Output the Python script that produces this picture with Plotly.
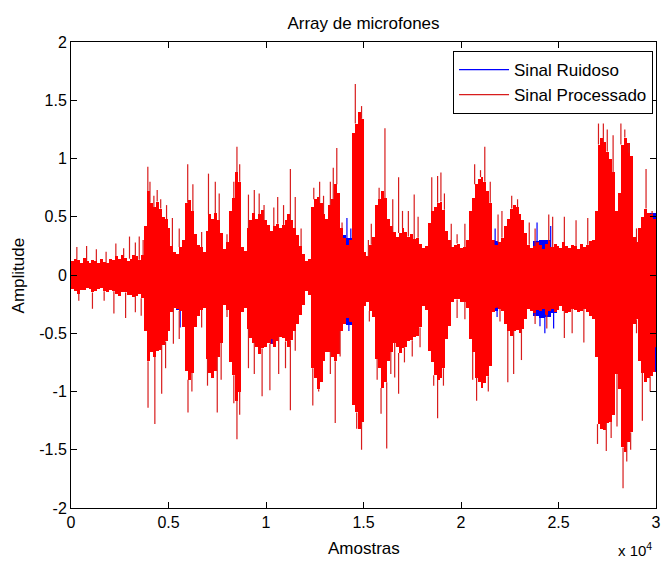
import plotly.graph_objects as go

# ---------------- data ----------------
# "Sinal Processado" (red): max / min of the signal in each 150-sample window
PROC_BIN = 150
proc_hi = [0.12, 0.14, 0.13, 0.10, 0.15, 0.12, 0.10, 0.13, 0.12, 0.10,
           0.14, 0.11, 0.10, 0.14, 0.13, 0.16, 0.14, 0.17, 0.15, 0.12,
           0.14, 0.17, 0.16, 0.13, 0.17, 0.42, 0.72, 0.62, 0.58, 0.63,
           0.57, 0.50, 0.48, 0.40, 0.25, 0.20, 0.18, 0.24, 0.30, 0.62,
           0.64, 0.55, 0.35, 0.26, 0.24, 0.20, 0.38, 0.52, 0.48, 0.53,
           0.47, 0.36, 0.22, 0.28, 0.55, 0.66, 0.88, 0.80, 0.24, 0.21,
           0.40, 0.47, 0.53, 0.48, 0.52, 0.56, 0.47, 0.43, 0.38, 0.42,
           0.44, 0.40, 0.43, 0.47, 0.52, 0.47, 0.40, 0.34, 0.25, 0.18,
           0.12, 0.14, 0.58, 0.65, 0.67, 0.62, 0.52, 0.48, 0.60, 0.65,
           0.78, 0.70, 0.40, 0.32, 0.26, 0.30, 1.22, 1.30, 1.40, 1.34,
           0.20, 0.16, 0.26, 0.33, 0.60, 0.65, 0.72, 0.66, 0.48, 0.42,
           0.37, 0.33, 0.36, 0.40, 0.37, 0.33, 0.35, 0.31, 0.32, 0.27,
           0.23, 0.25, 0.45, 0.55, 0.58, 0.62, 0.63, 0.56, 0.38, 0.30,
           0.24, 0.26, 0.27, 0.23, 0.24, 0.30, 0.55, 0.66, 0.78, 0.82,
           0.84, 0.80, 0.72, 0.62, 0.30, 0.26, 0.28, 0.32, 0.42, 0.48,
           0.57, 0.60, 0.58, 0.52, 0.47, 0.36, 0.26, 0.23, 0.25, 0.28,
           0.26, 0.22, 0.27, 0.29, 0.24, 0.27, 0.25, 0.23, 0.28, 0.25,
           0.23, 0.26, 0.25, 0.22, 0.27, 0.24, 0.26, 0.29, 0.30, 0.55,
           1.12, 1.18, 1.14, 1.06, 1.00, 0.88, 0.55, 0.70, 1.12, 1.18,
           1.13, 1.02, 0.33, 0.28, 0.40, 0.50, 0.57, 0.53, 0.52, 0.48]
proc_lo = [-0.12, -0.14, -0.16, -0.13, -0.13, -0.11, -0.12, -0.15, -0.14, -0.12,
           -0.11, -0.14, -0.15, -0.13, -0.14, -0.16, -0.18, -0.15, -0.15, -0.17,
           -0.17, -0.19, -0.18, -0.16, -0.20, -0.48, -0.74, -0.66, -0.70, -0.65,
           -0.64, -0.60, -0.57, -0.48, -0.32, -0.28, -0.29, -0.31, -0.45, -0.82,
           -0.90, -0.84, -0.45, -0.35, -0.30, -0.28, -0.72, -0.84, -0.88, -0.82,
           -0.70, -0.58, -0.26, -0.30, -0.75, -0.86, -1.08, -1.00, -0.32, -0.28,
           -0.46, -0.54, -0.58, -0.62, -0.68, -0.63, -0.62, -0.58, -0.59, -0.62,
           -0.57, -0.53, -0.54, -0.57, -0.62, -0.56, -0.48, -0.42, -0.34, -0.26,
           -0.14, -0.17, -0.80, -0.88, -0.98, -0.92, -0.74, -0.66, -0.66, -0.70,
           -0.74, -0.68, -0.48, -0.42, -0.37, -0.40, -1.12, -1.18, -1.32, -1.26,
           -0.27, -0.23, -0.31, -0.36, -0.72, -0.80, -0.97, -0.92, -0.74, -0.66,
           -0.58, -0.62, -0.67, -0.63, -0.62, -0.57, -0.56, -0.53, -0.52, -0.45,
           -0.27, -0.30, -0.65, -0.75, -0.86, -0.90, -0.88, -0.80, -0.55, -0.44,
           -0.23, -0.21, -0.21, -0.23, -0.23, -0.28, -0.55, -0.66, -0.88, -0.92,
           -0.97, -0.93, -0.87, -0.78, -0.32, -0.28, -0.29, -0.31, -0.42, -0.48,
           -0.52, -0.48, -0.47, -0.50, -0.46, -0.38, -0.29, -0.31, -0.33, -0.30,
           -0.31, -0.29, -0.34, -0.31, -0.29, -0.32, -0.30, -0.27, -0.31, -0.33,
           -0.32, -0.29, -0.30, -0.32, -0.31, -0.29, -0.32, -0.35, -0.38, -0.70,
           -1.28, -1.32, -1.33, -1.27, -1.26, -1.20, -0.85, -0.98, -1.48, -1.52,
           -1.43, -1.35, -0.42, -0.38, -0.74, -0.84, -0.92, -0.88, -0.87, -0.83]
# "Sinal Ruidoso" (blue): max / min in each 300-sample window (mostly hidden under red)
NOISY_BIN = 300
noisy_hi = [0.08, 0.08, 0.09, 0.08, 0.08, 0.08, 0.08, 0.10, 0.10, 0.09,
            0.11, 0.10, 0.15, 0.60, 0.55, 0.48, 0.38, 0.18, 0.16, 0.25,
            0.52, 0.24, 0.18, 0.36, 0.45, 0.34, 0.20, 0.52, 0.78, 0.18,
            0.38, 0.45, 0.48, 0.40, 0.35, 0.37, 0.40, 0.44, 0.32, 0.16,
            0.09, 0.52, 0.58, 0.45, 0.56, 0.66, 0.34, 0.32, 1.15, 1.30,
            0.14, 0.24, 0.55, 0.63, 0.40, 0.30, 0.33, 0.30, 0.28, 0.25,
            0.18, 0.42, 0.54, 0.52, 0.28, 0.20, 0.20, 0.22, 0.52, 0.74,
            0.76, 0.60, 0.29, 0.25, 0.38, 0.52, 0.49, 0.30, 0.20, 0.29,
            0.30, 0.30, 0.20, 0.19, 0.21, 0.19, 0.19, 0.20, 0.22, 0.26,
            1.05, 1.02, 0.85, 0.50, 1.05, 0.98, 0.26, 0.36, 0.48, 0.53]
noisy_lo = [-0.08, -0.10, -0.08, -0.09, -0.09, -0.08, -0.09, -0.10, -0.12, -0.10,
            -0.13, -0.12, -0.16, -0.62, -0.60, -0.56, -0.45, -0.25, -0.30, -0.42,
            -0.80, -0.32, -0.24, -0.68, -0.78, -0.55, -0.22, -0.70, -0.95, -0.24,
            -0.42, -0.53, -0.58, -0.54, -0.54, -0.49, -0.50, -0.52, -0.38, -0.22,
            -0.10, -0.74, -0.88, -0.62, -0.62, -0.64, -0.40, -0.43, -1.08, -1.20,
            -0.20, -0.28, -0.68, -0.88, -0.62, -0.54, -0.58, -0.53, -0.48, -0.42,
            -0.22, -0.60, -0.82, -0.76, -0.40, -0.17, -0.16, -0.18, -0.50, -0.84,
            -0.88, -0.74, -0.31, -0.24, -0.38, -0.44, -0.42, -0.34, -0.24, -0.35,
            -0.37, -0.36, -0.33, -0.23, -0.24, -0.23, -0.24, -0.23, -0.26, -0.32,
            -1.20, -1.22, -1.15, -0.80, -1.40, -1.30, -0.34, -0.70, -0.84, -0.62]

# individual peaks that stick out of the envelope (sample index, amplitude)
proc_peak_x = [300, 800, 1300, 1800, 2300, 2700, 3000, 3300, 3500, 3700,
               3940, 4050, 4250, 4420, 4600, 4900, 5200, 5550, 5985, 6250,
               6700, 7050, 7400, 7600, 8000, 8350, 8510, 8650, 9100, 9400,
               9650, 9900, 10400, 10600, 10900, 11250, 11500, 11800, 12450, 12750,
               12950, 13300, 13450, 13630, 13900, 14580, 14750, 14900, 15250, 15400,
               15800, 16100, 16500, 16800, 17000, 17300, 17600, 17800, 18500, 18800,
               18970, 19150, 19500, 19800, 20200, 20700, 21000, 21220, 21500, 21900,
               22100, 22600, 22900, 23500, 23800, 24500, 24700, 25300, 25900, 26500,
               27050, 27300, 27500, 27800, 28200, 28400, 28600, 29000, 29490, 29800,
               400, 1100, 1700, 2200, 2800, 3300, 3600, 3950, 4300, 4650,
               4850, 5250, 5550, 6000, 6200, 6700, 7000, 7500, 7700, 8000,
               8350, 8510, 8650, 9100, 9400, 9800, 10200, 10650, 11000, 11250,
               11500, 12400, 12700, 13300, 13550, 13800, 14650, 14900, 15300, 15700,
               15900, 16190, 16400, 16600, 16800, 17100, 17500, 17900, 18600, 18800,
               19100, 19800, 20200, 20600, 20800, 21400, 22000, 22400, 22700, 23100,
               23800, 24400, 25300, 25700, 26300, 27000, 27450, 27700, 28000, 28310,
               28500, 28700, 29000, 29300, 29700]
proc_peak_y = [0.24, 0.25, 0.22, 0.20, 0.27, 0.23, 0.33, 0.28, 0.33, 0.30,
               0.93, 0.80, 0.68, 0.73, 0.65, 0.60, 0.49, 0.40, 0.95, 0.78,
               0.37, 0.87, 0.80, 0.70, 0.35, 0.80, 1.10, 0.95, 0.69, 0.73,
               0.70, 0.60, 0.58, 0.67, 0.60, 0.91, 0.67, 0.40, 0.75, 0.80,
               0.68, 0.80, 0.92, 1.09, 0.45, 1.64, 1.40, 1.45, 0.30, 0.44,
               0.75, 1.26, 0.65, 0.84, 0.55, 0.55, 0.69, 0.50, 0.84, 0.85,
               0.88, 0.70, 0.44, 0.35, 0.44, 0.95, 0.90, 1.10, 0.80, 0.52,
               0.55, 0.68, 0.65, 0.45, 0.40, 0.52, 0.50, 0.50, 0.47, 0.49,
               1.30, 1.30, 1.25, 1.20, 1.30, 1.25, 1.05, 0.40, 0.91, 0.55,
               -0.22, -0.29, -0.22, -0.33, -0.37, -0.32, -0.35, -1.14, -1.28, -1.02,
               -0.80, -0.59, -0.55, -1.18, -1.00, -0.45, -0.95, -1.18, -0.90, -0.36,
               -1.10, -1.41, -1.20, -0.80, -0.85, -1.04, -0.99, -0.85, -0.80, -1.16,
               -0.65, -1.12, -1.00, -0.85, -1.27, -0.70, -1.32, -1.50, -0.40, -0.90,
               -1.19, -1.49, -0.85, -0.88, -1.02, -0.75, -0.70, -0.62, -0.95, -1.23,
               -0.95, -0.37, -0.38, -0.90, -1.08, -1.00, -0.40, -0.92, -0.85, -0.73,
               -0.42, -0.46, -0.54, -0.50, -0.58, -1.45, -1.51, -1.40, -1.30, -1.83,
               -1.60, -1.50, -0.50, -1.25, -1.00]
noisy_peak_x = [5600, 10300, 14150, 14250, 14350, 21750, 21850, 23900, 24050, 24300,
                24600, 24750, 29980, 29980]
noisy_peak_y = [-0.45, -0.55, 0.49, -0.48, 0.40, 0.40, -0.36, 0.45, -0.44, -0.50,
                0.42, -0.46, 0.50, -0.62]

x_ticks = [0, 5000, 10000, 15000, 20000, 25000, 30000]
x_tick_labels = ["0", "0.5", "1", "1.5", "2", "2.5", "3"]
y_ticks = [-2, -1.5, -1, -0.5, 0, 0.5, 1, 1.5, 2]
y_tick_labels = ["-2", "-1.5", "-1", "-0.5", "0", "0.5", "1", "1.5", "2"]

# ---------------- figure ----------------
FONT = "Liberation Sans, Arial, Helvetica, sans-serif"
RED = "#ff0000"
BLUE = "#0000ff"


def centers(n, w):
    return [w * i + w / 2 for i in range(n)]


def peak_segments(px, py, hi, lo, w):
    xs, ys = [], []
    for s, v in zip(px, py):
        b = min(int(s // w), len(hi) - 1)
        start = hi[b] if v > 0 else lo[b]
        xs += [s, s, None]
        ys += [start, v, None]
    return xs, ys


fig = go.Figure()
fig.add_trace(go.Bar(x=centers(len(noisy_hi), NOISY_BIN),
                     y=[h - l for h, l in zip(noisy_hi, noisy_lo)], base=noisy_lo,
                     width=NOISY_BIN, marker=dict(color=BLUE, line=dict(width=0)),
                     showlegend=False, hoverinfo="skip"))
fig.add_trace(go.Bar(x=centers(len(proc_hi), PROC_BIN),
                     y=[h - l for h, l in zip(proc_hi, proc_lo)], base=proc_lo,
                     width=PROC_BIN, marker=dict(color=RED, line=dict(width=0)),
                     showlegend=False, hoverinfo="skip"))
nx, ny = peak_segments(noisy_peak_x, noisy_peak_y, proc_hi, proc_lo, PROC_BIN)
fig.add_trace(go.Scatter(x=nx, y=ny, mode="lines", line=dict(color=BLUE, width=1.2),
                         name="Sinal Ruidoso", hoverinfo="skip"))
rx, ry = peak_segments(proc_peak_x, proc_peak_y, proc_hi, proc_lo, PROC_BIN)
fig.add_trace(go.Scatter(x=rx, y=ry, mode="lines", line=dict(color="#d81c1c", width=1.2),
                         name="Sinal Processado", hoverinfo="skip"))

axis_common = dict(showline=True, linecolor="black", linewidth=1, mirror="ticks",
                   ticks="inside", ticklen=6, tickcolor="black", showgrid=False,
                   zeroline=False, tickfont=dict(family=FONT, size=16, color="black"))
fig.update_layout(
    width=667, height=562,
    margin=dict(l=71, r=6, t=42, b=54),
    paper_bgcolor="white", plot_bgcolor="white",
    barmode="overlay", bargap=0,
    font=dict(family=FONT, size=17, color="black"),
    title=dict(text="Array de microfones", x=0.5, xref="paper", xanchor="center",
               y=1 - 23 / 562, yanchor="middle", font=dict(family=FONT, size=17)),
    xaxis=dict(range=[0, 30000], tickmode="array", tickvals=x_ticks, ticktext=x_tick_labels,
               **axis_common),
    yaxis=dict(range=[-2, 2], tickmode="array", tickvals=y_ticks, ticktext=y_tick_labels,
               **axis_common),
    legend=dict(x=(658 - 71) / 590, y=(508 - 51) / 466, xanchor="right", yanchor="top",
                bordercolor="black", borderwidth=1, bgcolor="white",
                font=dict(family=FONT, size=17), itemwidth=50, tracegroupgap=0),
    showlegend=True,
)
fig.add_annotation(text="Amostras", x=0.5, y=(508 - 548) / 466, xref="paper", yref="paper",
                   showarrow=False, xanchor="center", yanchor="middle", font=dict(size=17))
fig.add_annotation(text="Amplitude", x=(18 - 71) / 590, y=0.5, xref="paper", yref="paper",
                   showarrow=False, textangle=-90, xanchor="center", yanchor="middle",
                   font=dict(size=17))
fig.add_annotation(text="x 10<sup>4</sup>", x=(640 - 71) / 590, y=(508 - 549) / 466,
                   xref="paper", yref="paper", showarrow=False, xanchor="center",
                   yanchor="middle", font=dict(size=15))
fig.write_html("out.html")
